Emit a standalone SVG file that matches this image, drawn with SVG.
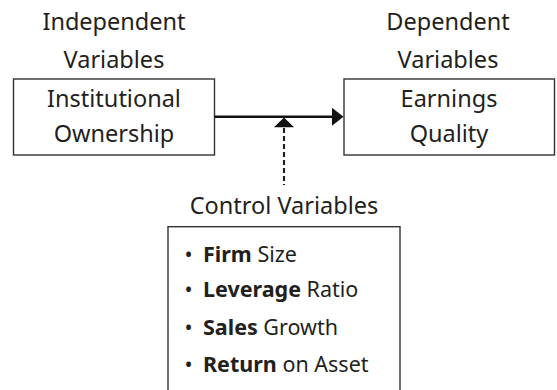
<svg xmlns="http://www.w3.org/2000/svg" width="557" height="390" viewBox="0 0 557 390">
<defs>
<style>
.t{font-family:"Noto Sans","Open Sans",sans-serif;font-size:23.5px;fill:#231f20;text-anchor:middle}
.i{font-family:"Noto Sans","Open Sans",sans-serif;font-size:21.5px;fill:#231f20}
.b{font-weight:bold}
.box{fill:#fff;stroke:#333;stroke-width:1.4}
.ln{stroke:#111;stroke-width:2.5;fill:none}
.ah{fill:#111}
</style>
</defs>
<rect width="557" height="390" fill="#fff"/>
<g id="independent">
<text class="t" x="114" y="30">Independent</text>
<text class="t" x="114" y="68">Variables</text>
<rect class="box" x="13.5" y="79" width="201" height="76"/>
<text class="t" x="114" y="106.5">Institutional</text>
<text class="t" x="114" y="141.5">Ownership</text>
</g>
<g id="dependent">
<text class="t" x="448" y="30">Dependent</text>
<text class="t" x="448" y="68">Variables</text>
<rect class="box" x="344" y="79" width="210.5" height="76"/>
<text class="t" x="449" y="106.5">Earnings</text>
<text class="t" x="449" y="141.5">Quality</text>
</g>
<g id="control">
<text class="t" x="284" y="214">Control Variables</text>
<rect class="box" x="168" y="226.7" width="232" height="180"/>
<text class="i" x="184.5" y="261.7">•</text>
<text class="i" x="203" y="261.7"><tspan class="b">Firm</tspan> Size</text>
<text class="i" x="184.5" y="297">•</text>
<text class="i" x="203" y="297"><tspan class="b">Leverage</tspan> Ratio</text>
<text class="i" x="184.5" y="334.5">•</text>
<text class="i" x="203" y="334.5"><tspan class="b">Sales</tspan> Growth</text>
<text class="i" x="184.5" y="372">•</text>
<text class="i" x="203" y="372"><tspan class="b">Return</tspan> on Asset</text>
</g>
<g id="connectors">
<line class="ln" x1="214.5" y1="116.7" x2="333" y2="116.7"/>
<polygon class="ah" points="332,107.7 343.5,116.7 332,125.7"/>
<line x1="284" y1="128" x2="284" y2="185" stroke="#222" stroke-width="2.2" stroke-dasharray="5,3"/>
<polygon class="ah" points="274,127.3 284,117.5 294,127.3"/>
</g>
</svg>
